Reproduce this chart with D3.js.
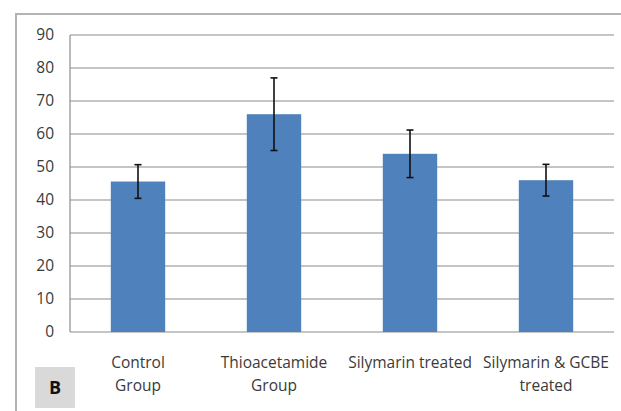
<!DOCTYPE html>
<html>
<head>
<meta charset="utf-8">
<script src="https://cdn.jsdelivr.net/npm/d3@7"></script>
<style>
  body { margin: 0; background: #fff; }
  text { font-family: "Open Sans", "Liberation Sans", sans-serif; }
</style>
</head>
<body>
<div id="chart"></div>
<script>
var width = 621,
    height = 411;

var groups = [["Control", "Group"], ["Thioacetamide", "Group"], ["Silymarin treated"], ["Silymarin & GCBE", "treated"]];
var means = [45.6, 66.0, 54.0, 46.0];
var errors = [5.1, 11.0, 7.2, 4.8];
var yTicks = [0, 10, 20, 30, 40, 50, 60, 70, 80, 90];

var svg = d3.select("#chart")
  .append("svg")
  .attr("width", width)
  .attr("height", height);

// outer frame (top and left edges visible)
svg.append("path")
  .attr("d", "M16,411V14H621")
  .attr("fill", "none")
  .attr("stroke", "#b4b4b4")
  .attr("stroke-width", 2);

var x = d3.scaleBand()
  .domain(d3.range(groups.length))
  .range([70, 614])
  .paddingInner(0.6)
  .paddingOuter(0.3);

var y = d3.scaleLinear().domain([0, 90]).range([332, 35]);

// gridlines
svg.append("g")
  .selectAll("line")
  .data(yTicks)
  .enter()
  .append("line")
  .attr("x1", 70).attr("x2", 614)
  .attr("y1", function(d){ return y(d) })
  .attr("y2", function(d){ return y(d) })
  .attr("stroke", "#8c8c8c")
  .attr("stroke-width", 1.2);

// left axis line
svg.append("line")
  .attr("x1", 70).attr("x2", 70)
  .attr("y1", y(90)).attr("y2", y(0))
  .attr("stroke", "#8c8c8c")
  .attr("stroke-width", 1.2);

// tick labels
svg.append("g")
  .selectAll("text")
  .data(yTicks)
  .enter()
  .append("text")
  .attr("x", 54)
  .attr("y", function(d){ return y(d) })
  .attr("dy", "0.35em")
  .attr("text-anchor", "end")
  .attr("font-size", 15.5)
  .attr("fill", "#3a3a3a")
  .text(function(d){ return d });

// bars
svg.append("g")
  .selectAll("rect")
  .data(means)
  .enter()
  .append("rect")
  .attr("x", function(d, i){ return x(i) })
  .attr("width", x.bandwidth())
  .attr("y", function(d){ return y(d) })
  .attr("height", function(d){ return y(0) - y(d) })
  .attr("fill", "#4f81bd");

// error bars
var err = svg.append("g")
  .attr("stroke", "#111")
  .attr("stroke-width", 1.6)
  .selectAll("g")
  .data(means)
  .enter()
  .append("g");

err.append("line")
  .attr("x1", function(d, i){ return x(i) + x.bandwidth()/2 })
  .attr("x2", function(d, i){ return x(i) + x.bandwidth()/2 })
  .attr("y1", function(d, i){ return y(d + errors[i]) })
  .attr("y2", function(d, i){ return y(d - errors[i]) });

[1, -1].forEach(function(s){
  err.append("line")
    .attr("x1", function(d, i){ return x(i) + x.bandwidth()/2 - 3.5 })
    .attr("x2", function(d, i){ return x(i) + x.bandwidth()/2 + 3.5 })
    .attr("y1", function(d, i){ return y(d + s*errors[i]) })
    .attr("y2", function(d, i){ return y(d + s*errors[i]) });
});

// category labels
var labels = svg.append("g")
  .selectAll("text")
  .data(groups)
  .enter()
  .append("text")
  .attr("text-anchor", "middle")
  .attr("font-size", 15.5)
  .attr("fill", "#3a3a3a")
  .attr("transform", function(d, i){ return "translate(" + (x(i) + x.bandwidth()/2) + ",368)" });

labels.selectAll("tspan")
  .data(function(d){ return d })
  .enter()
  .append("tspan")
  .attr("x", 0)
  .attr("y", function(d, j){ return j * 23 })
  .text(function(d){ return d });

// panel letter
svg.append("rect")
  .attr("x", 35).attr("y", 367)
  .attr("width", 40).attr("height", 41)
  .attr("fill", "#d9d9d9");

svg.append("text")
  .attr("x", 55).attr("y", 388)
  .attr("dy", "0.35em")
  .attr("text-anchor", "middle")
  .attr("font-size", 18)
  .attr("font-weight", "bold")
  .attr("fill", "#111")
  .text("B");
</script>
</body>
</html>
